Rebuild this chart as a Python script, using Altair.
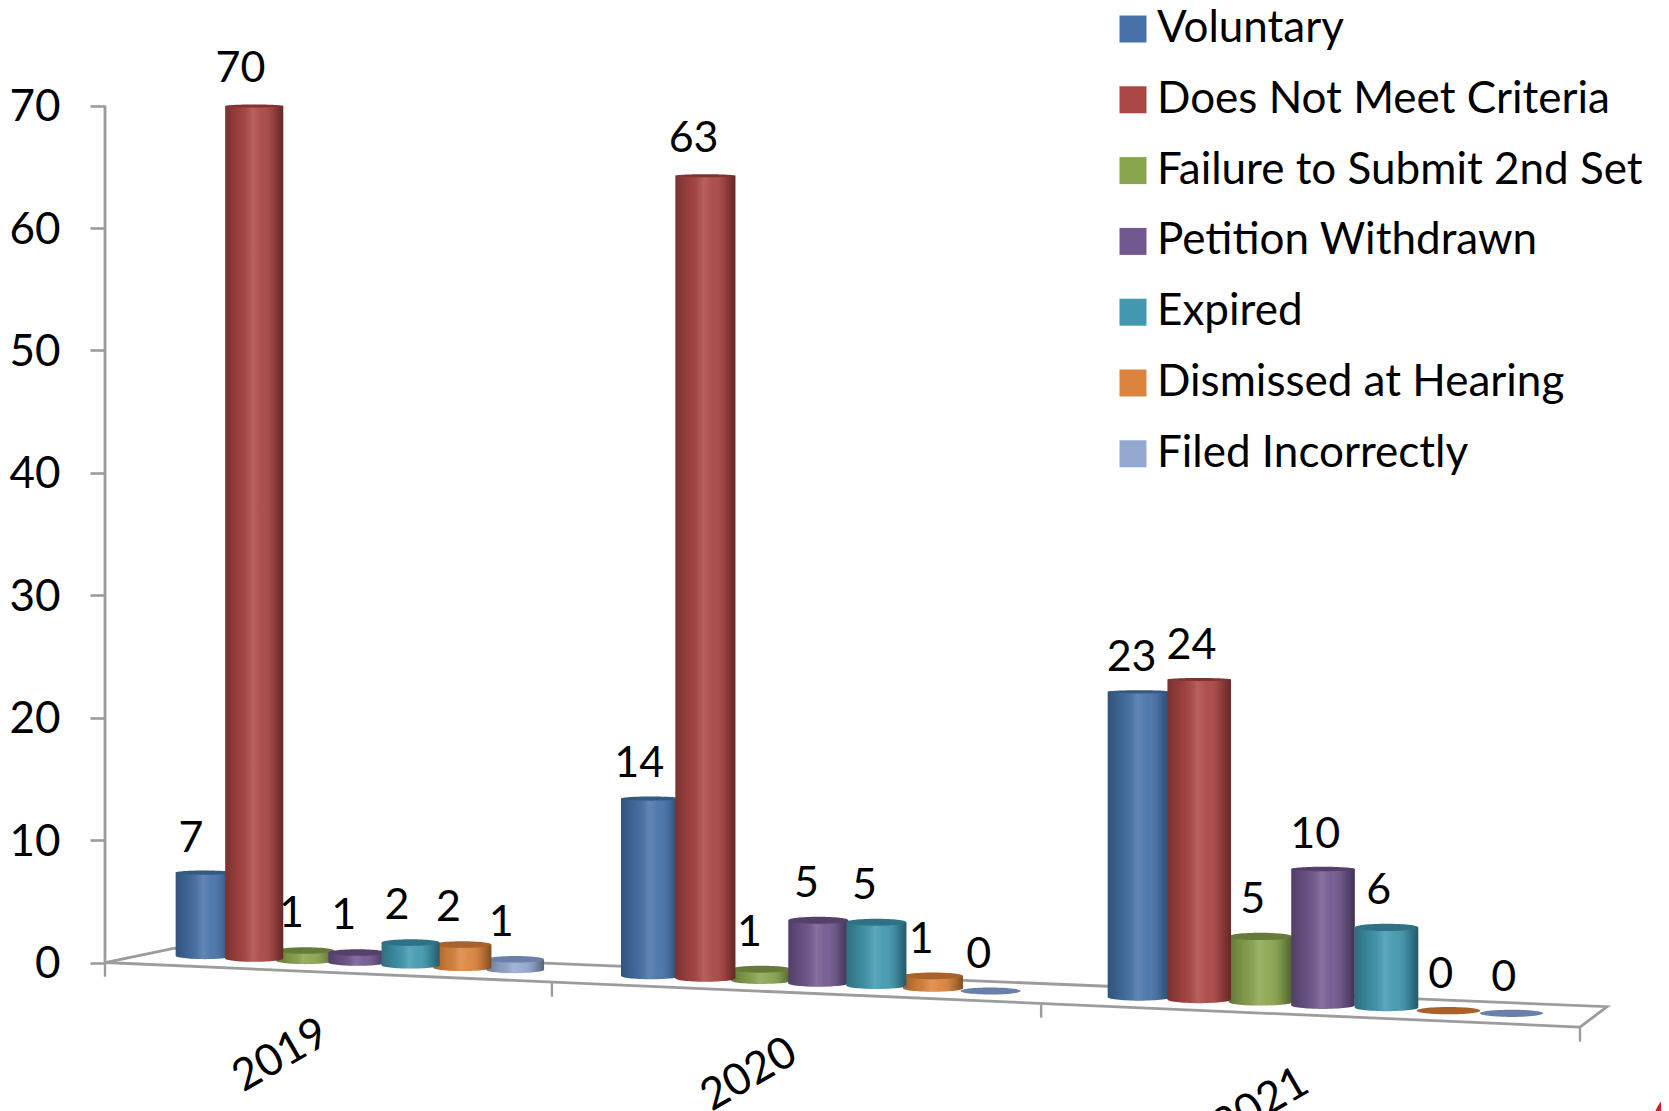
import altair as alt
import pandas as pd

# ---- categories and values ----
years = ["2019", "2020", "2021"]
series = ["Voluntary", "Does Not Meet Criteria", "Failure to Submit 2nd Set",
          "Petition Withdrawn", "Expired", "Dismissed at Hearing", "Filed Incorrectly"]
colors = ["#4672A8", "#AA4643", "#89A54E", "#71588F", "#4198AF", "#DB843D", "#93A9CF"]
cap_colors = ["#35597F", "#803432", "#667B3A", "#54416B", "#307285", "#A9622B", "#6B80A8"]

# printed data labels
labels = {
    "2019": [7, 70, 1, 1, 2, 2, 1],
    "2020": [14, 63, 1, 5, 5, 1, 0],
    "2021": [23, 24, 5, 10, 6, 0, 0],
}
# apparent top of each cylinder on the value axis (perspective view)
tops = {
    "2019": [7.13, 69.67, 0.98, 0.82, 1.63, 1.47, 0.27],
    "2020": [13.17, 63.95, -0.55, 3.45, 3.29, -1.09, -2.33],
    "2021": [21.78, 22.78, 2.13, 7.41, 2.87, -3.93, -4.15],
}
# apparent foot of each cylinder on the value axis (floor slopes away)
feet = {
    "2019": [0.55, 0.33, 0.14, 0.0, -0.22, -0.43, -0.60],
    "2020": [-1.09, -1.28, -1.47, -1.69, -1.88, -2.10, -2.33],
    "2021": [-2.82, -3.03, -3.22, -3.49, -3.68, -3.93, -4.15],
}
# horizontal layout in category units: where a year's group begins, lane step, cylinder width
group_start = [0.1438, 1.0495, 2.0394]
lane_step = [0.1052, 0.1151, 0.1261]
lane_nudge = [0.0, -0.0045, -0.006, -0.005, -0.002, -0.002, 0.0]
cyl_width = [0.118, 0.122, 0.1292]
label_shift = [-0.028, -0.024, -0.016]

year_x = [0.358, 1.31, 2.351]
year_y = [-7.62, -9.19, -11.63]

floor_x = [0.0, 0.142, 3.055, 3.0, 0.0]
floor_y = [0.0, 1.18, -3.61, -5.27, 0.0]
tick_x = [0.0, 0.909, 1.904, 3.0]
tick_top = [0.0, -1.65, -3.47, -5.27]
tick_bot = [-1.16, -2.79, -4.51, -6.47]

y_ticks = [0, 10, 20, 30, 40, 50, 60, 70]

# fragment of a logo that the reference's crop leaves in its lower right corner
logo_x = [3.244]
logo_y = [-13.67]

# ---- canvas ----
W, H = 1556, 1103
PX = 491.67
UNIT = 12.24
X_DOMAIN = [0, W / PX]
Y_DOMAIN = [-12.13, 77.98]
FONT = "Lato"
FS = 43
GREY = "#9C9C9C"


def flatness(top):
    """Cap ellipses flatten with height in the perspective view."""
    if top >= 20:
        return 0.05
    if top >= 5:
        return 0.07
    return 0.115


def ellipse(r):
    return f"M-1,0A1,{r} 0 1 1 1,0A1,{r} 0 1 1 -1,0Z"


rows = []
for yi, yr in enumerate(years):
    for si, s in enumerate(series):
        left = group_start[yi] + si * lane_step[yi] + lane_nudge[si]
        w_px = cyl_width[yi] * PX
        r = flatness(tops[yr][si])
        top = tops[yr][si] + (0.115 - r) * w_px / UNIT
        rows.append(dict(year=yr, series=s, si=si, x0=left, x1=left + cyl_width[yi],
                         xc=left + cyl_width[yi] / 2, xl=left + cyl_width[yi] / 2 + label_shift[yi],
                         top=top, ly=tops[yr][si] * 1.006, foot=feet[yr][si], label=labels[yr][si],
                         flat=tops[yr][si] == feet[yr][si], r=r,
                         sz=w_px ** 2))
df = pd.DataFrame(rows)

xs = alt.Scale(domain=X_DOMAIN, nice=False, zero=False)
ys = alt.Scale(domain=Y_DOMAIN, nice=False, zero=False)
y_axis_def = alt.Axis(
    values=y_ticks, domain=False, grid=False, tickSize=15, tickWidth=2.6, tickColor=GREY, title=None,
    labelFont=FONT, labelFontSize=44, labelColor="#000000", labelPadding=30, labelFlush=False,
    labelOffset=2)
X = lambda f: alt.X(f, type="quantitative", scale=xs, axis=None)
Y = lambda f: alt.Y(f, type="quantitative", scale=ys, axis=y_axis_def)


def shade():
    return alt.Gradient(
        gradient="linear", x1=0, y1=0, x2=1, y2=0,
        stops=[
            alt.GradientStop(offset=0.0, color="rgba(0,0,0,0.28)"),
            alt.GradientStop(offset=0.25, color="rgba(0,0,0,0.08)"),
            alt.GradientStop(offset=0.47, color="rgba(255,255,255,0.15)"),
            alt.GradientStop(offset=0.62, color="rgba(255,255,255,0.05)"),
            alt.GradientStop(offset=0.86, color="rgba(0,0,0,0.18)"),
            alt.GradientStop(offset=1.0, color="rgba(0,0,0,0.42)"),
        ],
    )


color_scale = alt.Scale(domain=series, range=colors)
legend = alt.Legend(
    orient="none", legendX=1006, legendY=-1, title=None, symbolType="square",
    symbolSize=729, symbolStrokeWidth=0, labelFont=FONT, labelFontSize=44, labelColor="#000000",
    labelOffset=2, rowPadding=26.8, labelLimit=620, padding=0,
)

# floor of the perspective plot, ticks, value axis
floor_df = pd.DataFrame({"x": floor_x, "y": floor_y, "o": range(len(floor_x))})
floor_line = alt.Chart(floor_df).mark_line(color=GREY, strokeWidth=2.8).encode(
    x=X("x"), y=Y("y"), order="o:Q")
ticks_df = pd.DataFrame({"x": tick_x, "a": tick_top, "b": tick_bot})
x_ticks = alt.Chart(ticks_df).mark_rule(color=GREY, strokeWidth=2.4).encode(
    x=X("x"), y=Y("a"), y2="b:Q")
axis_df = pd.DataFrame({"a": [y_ticks[0]], "b": [y_ticks[-1]], "x": [0.0]})
y_line = alt.Chart(axis_df).mark_rule(color=GREY, strokeWidth=2.8).encode(
    x=X("x"), y=Y("a"), y2="b:Q")
logo = alt.Chart(pd.DataFrame({"x": logo_x, "y": logo_y})).mark_point(
    shape="circle", filled=False, color="#D0202F", strokeWidth=8, size=7854, opacity=1, clip=False
).encode(x=X("x"), y=Y("y"))

layers = [floor_line, x_ticks, y_line, logo]

# drawing order: nearer cylinders overlap neighbours
for si in [0, 2, 1, 6, 5, 3, 4]:
    d = df[df.si == si]
    solid = d[~d.flat]
    base = alt.Chart(solid)
    layers += [
        base.mark_point(shape=ellipse(0.115), filled=True, opacity=1, strokeWidth=0, color=colors[si]).encode(
            x=X("xc"), y=Y("foot"), size=alt.Size("sz:Q", scale=None, legend=None)),
        base.mark_point(shape=ellipse(0.115), fill=shade(), filled=True, opacity=1, strokeWidth=0).encode(
            x=X("xc"), y=Y("foot"), size=alt.Size("sz:Q", scale=None, legend=None)),
        base.mark_rect(strokeWidth=0).encode(
            x=X("x0"), x2="x1:Q", y=Y("top"), y2="foot:Q",
            color=alt.Color("series:N", scale=color_scale, legend=legend)),
        base.mark_rect(fill=shade(), strokeWidth=0).encode(
            x=X("x0"), x2="x1:Q", y=Y("top"), y2="foot:Q"),
    ]
    for r in sorted(d.r.unique()):
        layers.append(
            alt.Chart(d[d.r == r]).mark_point(shape=ellipse(r), filled=True, opacity=1, strokeWidth=0,
                                              color=cap_colors[si]).encode(
                x=X("xc"), y=Y("top"), size=alt.Size("sz:Q", scale=None, legend=None)))

value_labels = alt.Chart(df).mark_text(
    font=FONT, fontSize=FS, color="#000000", baseline="middle", align="center", dy=-36
).encode(x=X("xl"), y=Y("ly"), text="label:N")
layers.append(value_labels)

year_df = pd.DataFrame({"x": year_x, "y": year_y, "t": years})
year_labels = alt.Chart(year_df).mark_text(
    font=FONT, fontSize=44, color="#000000", baseline="middle", align="center", angle=330
).encode(x=X("x"), y=Y("y"), text="t:N")
layers.append(year_labels)

chart = alt.layer(*layers).resolve_scale(size="independent").properties(
    width=W, height=H,
    padding={"left": 97, "top": 0, "right": 0, "bottom": 0},
    autosize=alt.AutoSizeParams(type="none"),
    background="#FFFFFF",
).configure_view(strokeWidth=0)

chart.save("out.html", embed_options={"renderer": "svg", "actions": False})
